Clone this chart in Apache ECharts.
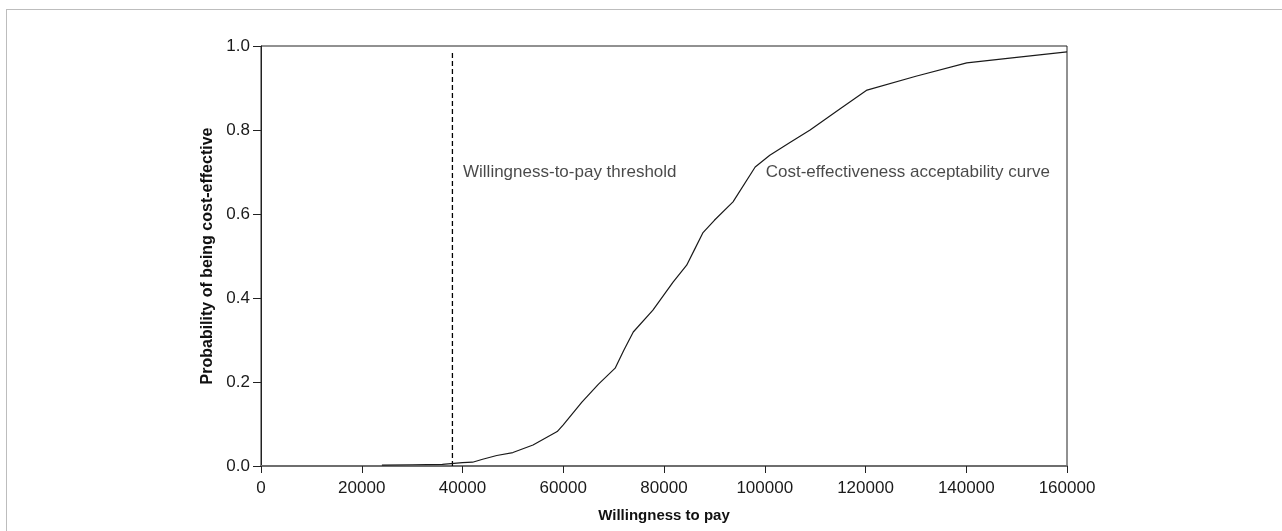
<!DOCTYPE html>
<html>
<head>
<meta charset="utf-8">
<script src="https://cdn.jsdelivr.net/npm/echarts@6/dist/echarts.min.js"></script>
<style>
  html, body { margin: 0; padding: 0; background: #fff; }
  #frame { position: absolute; left: 6px; top: 9px; width: 1400px; height: 600px;
           border-left: 1px solid #bdbdbd; border-top: 1px solid #bdbdbd; }
  #chart { position: absolute; left: 0; top: 0; width: 1282px; height: 531px; }
</style>
</head>
<body>
<div id="frame"></div>
<div id="chart"></div>
<script>
// Willingness to pay (x) and probability of being cost-effective (y)
const wtp = [24000, 30000, 36000, 40000, 42000, 44000, 46800, 50000, 54000, 58800,
             60000, 63700, 67000, 70300, 72000, 73900, 77800, 81800, 84500, 86000,
             87700, 90000, 93700, 98100, 101000, 105000, 109000, 114900, 120300,
             130000, 140100, 150000, 160000];
const probability = [0.002, 0.003, 0.004, 0.008, 0.009, 0.016, 0.025, 0.032, 0.05, 0.082,
                     0.098, 0.152, 0.195, 0.233, 0.275, 0.319, 0.371, 0.438, 0.478, 0.514,
                     0.555, 0.585, 0.629, 0.712, 0.74, 0.77, 0.80, 0.85, 0.895,
                     0.928, 0.96, 0.973, 0.986];

// Threshold value and the extent of its dashed marker
const thresholdWtp = 38000;
const thresholdTop = 0.985;

// Axis ticks
const xTicks = [0, 20000, 40000, 60000, 80000, 100000, 120000, 140000, 160000];
const yTicks = [0.0, 0.2, 0.4, 0.6, 0.8, 1.0];

// Annotation text anchored in data space
const annotations = [
  { name: 'Willingness-to-pay threshold', value: [40100, 0.70] },
  { name: 'Cost-effectiveness acceptability curve', value: [100200, 0.70] }
];

const chart = echarts.init(document.getElementById('chart'));
const font = 'Liberation Sans, Arial, sans-serif';

chart.setOption({
  animation: false,
  grid: {
    left: 261, right: 215, top: 46, bottom: 65,
    show: true, borderColor: '#222', borderWidth: 1, backgroundColor: 'transparent'
  },
  xAxis: {
    type: 'value',
    min: xTicks[0], max: xTicks[xTicks.length - 1],
    interval: xTicks[1] - xTicks[0],
    name: 'Willingness to pay',
    nameLocation: 'middle', nameGap: 42,
    nameTextStyle: { fontFamily: font, fontSize: 15, fontWeight: 'bold', color: '#111' },
    axisLine: { show: true, lineStyle: { color: '#6e6e6e', width: 2 } },
    axisTick: { show: true, length: 7, lineStyle: { color: '#222', width: 1 } },
    axisLabel: { fontFamily: font, fontSize: 17, color: '#1a1a1a', margin: 14,
                 formatter: v => String(v) },
    splitLine: { show: false }
  },
  yAxis: {
    type: 'value',
    min: yTicks[0], max: yTicks[yTicks.length - 1],
    interval: 0.2,
    name: 'Probability of being cost-effective',
    nameLocation: 'middle', nameGap: 43,
    nameTextStyle: { fontFamily: font, fontSize: 16, fontWeight: 'bold', color: '#111' },
    axisLine: { show: true, lineStyle: { color: '#222', width: 1 } },
    axisTick: { show: true, length: 8, lineStyle: { color: '#222', width: 1 } },
    axisLabel: { fontFamily: font, fontSize: 17, color: '#1a1a1a', margin: 11,
                 padding: [4, 0, 0, 0],
                 formatter: v => v.toFixed(1) },
    splitLine: { show: false }
  },
  series: [
    {
      name: 'Cost-effectiveness acceptability curve',
      type: 'line',
      data: wtp.map((x, i) => [x, probability[i]]),
      showSymbol: false,
      lineStyle: { color: '#1a1a1a', width: 1.2 },
      z: 3
    },
    {
      name: 'Willingness-to-pay threshold',
      type: 'line',
      data: [[thresholdWtp, 0], [thresholdWtp, thresholdTop]],
      showSymbol: false,
      lineStyle: { color: '#000', width: 1.3, type: [5, 3] },
      z: 2
    },
    {
      name: 'annotations',
      type: 'scatter',
      data: annotations,
      symbolSize: 0,
      label: {
        show: true, position: 'right', distance: 0,
        formatter: p => p.name,
        fontFamily: font, fontSize: 17, color: '#1a1a1a'
      },
      z: 4
    }
  ]
});
</script>
</body>
</html>
